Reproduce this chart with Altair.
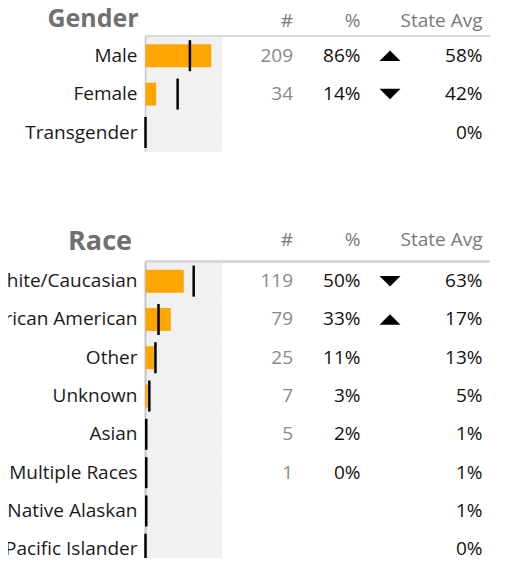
import altair as alt
import pandas as pd

# ---------------- data ----------------
gender_cats = ["Male", "Female", "Transgender"]
gender_counts = [209, 34, None]
gender_pct = [0.86, 0.14, None]
gender_state = [0.58, 0.42, 0.00]
gender_dir = ["up", "down", ""]

race_cats = ["White/Caucasian", "African American", "Other", "Unknown", "Asian",
             "Multiple Races", "American Indian/Native Alaskan",
             "Native Hawaiian/Pacific Islander"]
race_counts = [119, 79, 25, 7, 5, 1, None, None]
race_pct = [0.50, 0.33, 0.11, 0.03, 0.02, 0.004, None, None]
race_state = [0.63, 0.17, 0.13, 0.05, 0.01, 0.01, 0.01, 0.00]
race_dir = ["down", "up", "", "", "", "", "", ""]

headers = ["#", "%", "State Avg"]

FONT = "Open Sans"
FS = 19
W, H = 493, 550

xs = alt.Scale(domain=[0, 1], range=[137.5, 214], zero=True, nice=False)
shape_scale = alt.Scale(domain=["up", "down"],
                        range=["M-1,0.5L1,0.5L0,-0.5Z", "M-1,-0.5L1,-0.5L0,0.5Z"])


def section(cats, counts, pct, state, dirs, title, yrange, title_x, title_y, title_size, head_y):
    df = pd.DataFrame({"cat": cats, "count": counts, "pct": pct,
                       "state": state, "dir": dirs})
    base = alt.Chart(df)
    y = alt.Y("cat:N", sort=cats, axis=None,
              scale=alt.Scale(domain=cats, range=yrange, paddingInner=0, paddingOuter=0))

    band = base.mark_rect(color="#f0f0f2").encode(
        x=alt.X(datum=0, type="quantitative", scale=xs, axis=None),
        x2=alt.X2(datum=1), y=y)
    border = base.mark_rule(color="#c8c8c8", strokeWidth=1.2).encode(
        x=alt.X(datum=0, type="quantitative", scale=xs, axis=None),
        y=alt.value(yrange[0]), y2=alt.value(yrange[1]))
    bars = base.transform_filter("isValid(datum.pct)").mark_bar(
        color="#FFA500", height=23).encode(
        x=alt.X("pct:Q", scale=xs, axis=None), y=y)
    ticks = base.mark_tick(orient="vertical", color="#000000", opacity=1,
                           size=31, thickness=2.5).encode(
        x=alt.X("state:Q", scale=xs, axis=None), y=y)
    hline = base.mark_rule(color="#d8d8d8", strokeWidth=2).encode(
        x=alt.value(137.5), x2=alt.value(482), y=alt.value(yrange[0] - 0.5))

    labels = base.mark_text(align="right", baseline="middle", font=FONT,
                            fontSize=FS, color="#1a1a1a").encode(
        x=alt.value(129.5), y=y, text="cat:N")
    cnt = base.transform_filter("isValid(datum.count)").mark_text(
        align="right", baseline="middle", font=FONT, fontSize=FS, color="#8a8a8a").encode(
        x=alt.value(285), y=y, text=alt.Text("count:Q", format="d"))
    pcts = base.transform_filter("isValid(datum.pct)").mark_text(
        align="right", baseline="middle", font=FONT, fontSize=FS, color="#111111").encode(
        x=alt.value(352.5), y=y, text=alt.Text("pct:Q", format=".0%"))
    tri = base.transform_filter("datum.dir != ''").mark_point(
        filled=True, color="black", opacity=1, size=441, strokeWidth=0).encode(
        x=alt.value(382), y=y,
        shape=alt.Shape("dir:N", scale=shape_scale, legend=None))
    st = base.mark_text(align="right", baseline="middle", font=FONT,
                        fontSize=FS, color="#111111").encode(
        x=alt.value(474.5), y=y, text=alt.Text("state:Q", format=".0%"))

    ttl = alt.Chart(pd.DataFrame({"t": [title]})).mark_text(
        align="right", baseline="alphabetic", font=FONT, fontSize=title_size,
        fontWeight="bold", color="#707070").encode(
        x=alt.value(title_x), y=alt.value(title_y), text="t:N")

    hx = [285, 352.5, 474.5]
    heads = [alt.Chart(pd.DataFrame({"h": [h]})).mark_text(
        align="right", baseline="alphabetic", font=FONT, fontSize=FS,
        color="#7a7a7a").encode(x=alt.value(px), y=alt.value(head_y), text="h:N")
        for h, px in zip(headers, hx)]

    return alt.layer(band, border, bars, ticks, hline, labels, cnt, pcts, tri, st, ttl, *heads)


gender = section(gender_cats, gender_counts, gender_pct, gender_state, gender_dir,
                 "Gender", [28.5, 143.7], 130.7, 18.5, 25, 18.5)
race = section(race_cats, race_counts, race_pct, race_state, race_dir,
               "Race", [254, 560.4], 124, 242, 27, 237.5)

chart = alt.layer(gender, race).resolve_scale(y="independent").properties(
    width=W, height=H,
    autosize=alt.AutoSizeParams(type="none"),
    padding=0,
).configure_view(stroke=None)

chart.save("out.html", embed_options={"renderer": "svg", "actions": False})
